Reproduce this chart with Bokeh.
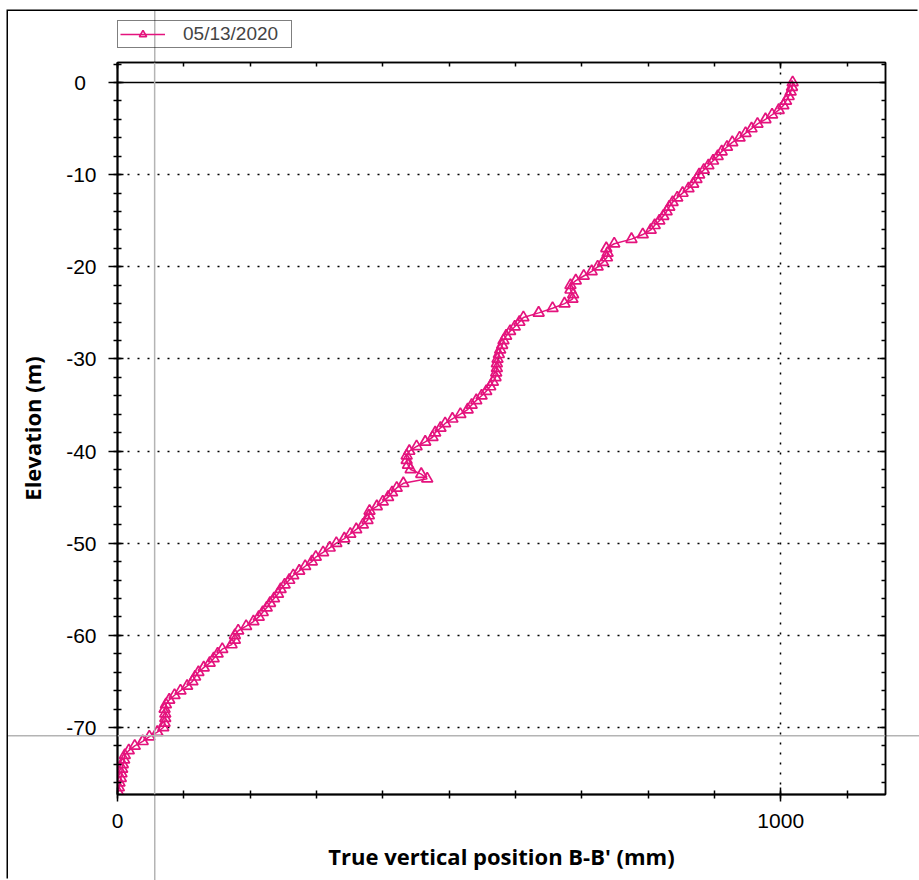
from bokeh.plotting import figure
from bokeh.layouts import column
from bokeh.models import (ColumnDataSource, FixedTicker, LinearAxis, Span, Range1d,
                          Legend, LegendItem)
from bokeh.embed import file_html
from bokeh.resources import INLINE

# ---- data ----
elevation_m = [0, -0.5, -1, -1.5, -2, -2.5, -3, -3.5, -4, -4.5, -5, -5.5, -6, -6.5, -7, -7.5,
               -8, -8.5, -9, -9.5, -10, -10.5, -11, -11.5, -12, -12.5, -13, -13.5, -14, -14.5,
               -15, -15.5, -16, -16.5, -17, -17.5, -18, -18.5, -19, -19.5, -20, -20.5, -21,
               -21.5, -22, -22.5, -23, -23.5, -24, -24.5, -25, -25.5, -26, -26.5, -27, -27.5,
               -28, -28.5, -29, -29.5, -30, -30.5, -31, -31.5, -32, -32.5, -33, -33.5, -34,
               -34.5, -35, -35.5, -36, -36.5, -37, -37.5, -38, -38.5, -39, -39.5, -40, -40.5,
               -41, -41.5, -42, -42.5, -43, -43.5, -44, -44.5, -45, -45.5, -46, -46.5, -47,
               -47.5, -48, -48.5, -49, -49.5, -50, -50.5, -51, -51.5, -52, -52.5, -53, -53.5,
               -54, -54.5, -55, -55.5, -56, -56.5, -57, -57.5, -58, -58.5, -59, -59.5, -60,
               -60.5, -61, -61.5, -62, -62.5, -63, -63.5, -64, -64.5, -65, -65.5, -66, -66.5,
               -67, -67.5, -68, -68.5, -69, -69.5, -70, -70.5, -71, -71.5, -72, -72.5, -73,
               -73.5, -74, -74.5, -75, -75.5, -76, -76.5, -77]
position_mm = [1018, 1017, 1015, 1012, 1008, 1004, 997, 987, 977, 965, 956, 947, 938, 927, 919, 911,
               905, 898, 891, 884, 877, 873, 868, 861, 852, 844, 837, 832, 828, 823,
               817, 810, 804, 792, 775, 749, 737, 739, 738, 732, 724, 715, 703,
               691, 683, 683, 687, 686, 674, 656, 635, 612, 606, 599, 592, 586,
               582, 580, 577, 575, 573, 572, 572, 571, 570, 566, 562, 556, 549,
               541, 534, 528, 517, 505, 494, 487, 479, 475, 464, 451, 440, 436,
               436, 438, 442, 458, 467, 431, 421, 414, 408, 400, 391, 380, 379,
               377, 370, 360, 351, 342, 330, 320, 310, 299, 293, 283, 274, 265,
               259, 252, 246, 242, 236, 230, 225, 219, 213, 205, 194, 182, 177,
               177, 172, 158, 151, 145, 139, 130, 122, 117, 113, 105, 95, 86,
               78, 73, 71, 72, 72, 71, 69, 60, 48, 38, 26, 17, 11,
               10, 8, 7, 6, 5, 3, 2, 1]
series_label = "05/13/2020"
x_major_ticks = [0, 1000]
x_minor_ticks = [0, 100, 200, 300, 400, 500, 600, 700, 800, 900, 1000, 1100]
y_major_ticks = [-70, -60, -50, -40, -30, -20, -10, 0]
y_tick_labels = ["-70", "-60", "-50", "-40", "-30", "-20", "-10", "0\u2002"]
y_minor_ticks = [-76, -74, -72, -70, -68, -66, -64, -62, -60, -58, -56, -54, -52, -50, -48,
                 -46, -44, -42, -40, -38, -36, -34, -32, -30, -28, -26, -24, -22, -20, -18,
                 -16, -14, -12, -10, -8, -6, -4, -2, 0, 2]
y_grid_lines = [-70, -60, -50, -40, -30, -20, -10]
x_grid_lines = [1000]
cursor_x = 56
cursor_y = -70.9

COLOR = "#E4137D"
CURSOR = "#b4b4b4"
TICK_FONT = "Liberation Sans"

src = ColumnDataSource(dict(x=position_mm, y=elevation_m))

FW, FH = 768, 732
p = figure(frame_width=FW, frame_height=FH,
           min_border_left=109, min_border_right=34, min_border_top=10, min_border_bottom=86,
           x_range=Range1d(0, 1158), y_range=Range1d(-77.27, 2.17),
           output_backend="svg", toolbar_location=None,
           background_fill_color="white", border_fill_color="white", border_fill_alpha=0)

p.outline_line_color = "black"
p.outline_line_width = 1.5

# grid
p.xgrid.ticker = FixedTicker(ticks=x_grid_lines)
p.ygrid.ticker = FixedTicker(ticks=y_grid_lines)
for g in (p.xgrid, p.ygrid):
    g.grid_line_color = "black"
    g.grid_line_dash = "2 8"
    g.grid_line_width = 1.5

# axes
xa = p.xaxis[0]
xa.ticker = FixedTicker(ticks=x_major_ticks, minor_ticks=x_minor_ticks)
xa.axis_label = "True vertical position B-B' (mm)"
ya = p.yaxis[0]
ya.ticker = FixedTicker(ticks=y_major_ticks, minor_ticks=y_minor_ticks)
ya.major_label_overrides = {t: s for t, s in zip(y_major_ticks, y_tick_labels)}
ya.axis_label = "Elevation (m)"

for ax in (xa, ya):
    ax.axis_line_color = "black"
    ax.axis_line_width = 2
    ax.major_tick_line_color = "black"
    ax.minor_tick_line_color = "black"
    ax.major_tick_line_width = 1.5
    ax.minor_tick_line_width = 1.5
    ax.major_label_text_font = TICK_FONT
    ax.major_label_text_font_size = "21px"
    ax.major_label_text_color = "black"
    ax.axis_label_text_font = "Open Sans"
    ax.axis_label_text_font_style = "bold"
    ax.axis_label_text_font_size = "22px"
    ax.axis_label_text_color = "black"

ya.major_tick_out = 9
ya.major_tick_in = 6
ya.minor_tick_out = 4
ya.minor_tick_in = 4
ya.major_label_standoff = 12
ya.axis_label_standoff = 16

xa.major_tick_out = 7
xa.major_tick_in = 7
xa.minor_tick_out = 4
xa.minor_tick_in = 4
xa.major_label_standoff = 12
xa.axis_label_standoff = 10

top = LinearAxis(ticker=FixedTicker(ticks=x_major_ticks, minor_ticks=x_minor_ticks))
right = LinearAxis(ticker=FixedTicker(ticks=y_major_ticks, minor_ticks=y_minor_ticks))
for ax in (top, right):
    ax.axis_line_color = "black"
    ax.axis_line_width = 1.5
    ax.major_tick_line_color = "black"
    ax.minor_tick_line_color = "black"
    ax.major_tick_line_width = 1.5
    ax.minor_tick_line_width = 1.5
    ax.major_tick_out = 0
    ax.minor_tick_out = 0
    ax.major_tick_in = 6
    ax.minor_tick_in = 4
    ax.major_label_standoff = 0
    ax.major_label_text_font_size = "0px"
    ax.major_label_text_alpha = 0
p.add_layout(top, "above")
p.add_layout(right, "right")

# zero line and cursor lines
p.add_layout(Span(location=0, dimension="width", line_color="black", line_width=1.5))
p.add_layout(Span(location=cursor_x, dimension="height", line_color=CURSOR, line_width=1.5))
p.add_layout(Span(location=cursor_y, dimension="width", line_color=CURSOR, line_width=1.5))

# series
LINE_STYLE = dict(line_color=COLOR, line_width=1.5)
MARK_STYLE = dict(marker="triangle", size=11, line_color=COLOR, line_width=1.7, fill_color=None)
p.line("x", "y", source=src, **LINE_STYLE)
p.scatter("x", "y", source=src, **MARK_STYLE)

# legend strip above the plot (the legend box sits above the plot frame)
lf = figure(width=911, height=41, min_border_left=109, min_border_right=0,
            min_border_top=0, min_border_bottom=4, toolbar_location=None,
            output_backend="svg", x_axis_type=None, y_axis_type=None,
            x_range=Range1d(0, 1), y_range=Range1d(0, 1),
            outline_line_color=None, background_fill_alpha=0, border_fill_alpha=0)
lf.xgrid.visible = False
lf.ygrid.visible = False
kl = lf.line("x", "y", source=src, **LINE_STYLE)
ks = lf.scatter("x", "y", source=src, **MARK_STYLE)
legend = Legend(items=[LegendItem(label=series_label, renderers=[kl, ks])],
                location="bottom_left", margin=0, padding=2, spacing=0,
                glyph_width=45, glyph_height=18, label_height=18, label_standoff=18,
                label_width=106,
                label_text_font=TICK_FONT, label_text_font_size="19px",
                border_line_color="black", border_line_width=1.2,
                background_fill_alpha=0)
lf.add_layout(legend, "center")

layout = column(lf, p, spacing=0,
                styles={"margin-left": "8px", "margin-top": "11px",
                        "box-shadow": "-1.5px -1.5px 0 0 black",
                        "background": ("linear-gradient(%s,%s) no-repeat 145.5px 0 / 1.5px 100%%, "
                                       "linear-gradient(%s,%s) no-repeat 0 723.5px / 100%% 1.5px, white")
                                      % (CURSOR, CURSOR, CURSOR, CURSOR)})

open("out.html", "w").write(file_html(layout, INLINE))
